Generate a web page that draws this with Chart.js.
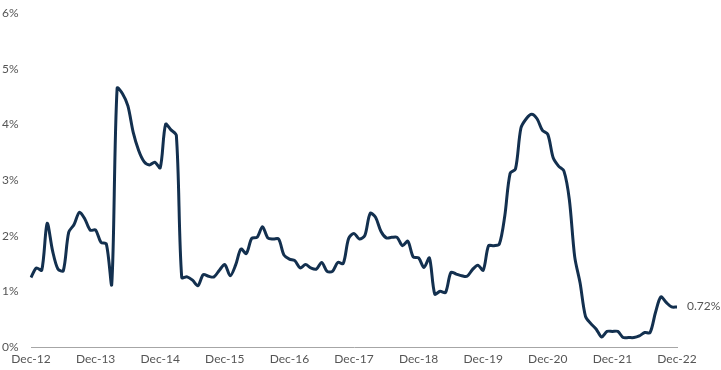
<!DOCTYPE html>
<html>
<head>
<meta charset="utf-8">
<script src="https://cdn.jsdelivr.net/npm/chart.js@4"></script>
<style>
  html, body { margin: 0; padding: 0; background: #ffffff; }
  #wrap { width: 721px; height: 370px; }
</style>
</head>
<body>
<div id="wrap"><canvas id="rateChart" width="721" height="370"></canvas></div>
<script>
// monthly labels, Dec-12 .. Dec-22
const month_names = ["Dec", "Jan", "Feb", "Mar", "Apr", "May", "Jun", "Jul", "Aug", "Sep", "Oct", "Nov"]
const start_year = 12
const end_label = "0.72%"

// values in %, one per month
const rate_2013 = [1.25, 1.42, 1.38, 2.22, 1.73, 1.40, 1.37, 2.06, 2.20, 2.42, 2.30, 2.10]
const rate_2014 = [2.10, 1.88, 1.85, 1.13, 4.65, 4.55, 4.33, 3.85, 3.53, 3.33, 3.27, 3.32]
const rate_2015 = [3.22, 4.00, 3.90, 3.80, 1.25, 1.26, 1.20, 1.10, 1.30, 1.27, 1.26, 1.38]
const rate_2016 = [1.48, 1.28, 1.47, 1.76, 1.68, 1.95, 1.97, 2.16, 1.96, 1.94, 1.94, 1.65]
const rate_2017 = [1.58, 1.55, 1.42, 1.48, 1.42, 1.40, 1.52, 1.36, 1.36, 1.52, 1.50, 1.95]
const rate_2018 = [2.04, 1.94, 2.00, 2.40, 2.33, 2.08, 1.96, 1.97, 1.97, 1.82, 1.90, 1.62]
const rate_2019 = [1.60, 1.43, 1.60, 0.95, 1.00, 0.98, 1.34, 1.31, 1.28, 1.27, 1.39, 1.47]
const rate_2020 = [1.38, 1.82, 1.82, 1.85, 2.35, 3.12, 3.20, 3.93, 4.10, 4.18, 4.10, 3.89]
const rate_2021 = [3.82, 3.40, 3.25, 3.16, 2.65, 1.62, 1.15, 0.55, 0.42, 0.32, 0.18, 0.28]
const rate_2022 = [0.28, 0.28, 0.17, 0.17, 0.17, 0.20, 0.26, 0.26, 0.62, 0.90, 0.80, 0.72]
const rate_last = [0.72]

const rate_values = [].concat(rate_2013, rate_2014, rate_2015, rate_2016, rate_2017,
  rate_2018, rate_2019, rate_2020, rate_2021, rate_2022, rate_last)

const month_labels = rate_values.map(function (v, i)
{
  const year = start_year + Math.floor((i + 11) / 12)
  return month_names[i % 12] + "-" + year
})

const text_color = "#555555"
const line_color = "#13304f"

// writes the last value next to the end of the line
const end_label_plugin =
{
  id: "endLabel",
  afterDatasetsDraw(chart)
  {
    const meta = chart.getDatasetMeta(0)
    const last = meta.data[meta.data.length - 1]
    const ctx = chart.ctx
    ctx.save()
    ctx.font = "12px Lato, 'DejaVu Sans', sans-serif"
    ctx.fillStyle = text_color
    ctx.textAlign = "left"
    ctx.textBaseline = "middle"
    ctx.fillText(end_label, last.x + 10, last.y - 1)
    ctx.restore()
  }
}

const chart_context = document.getElementById("rateChart").getContext("2d")

const rate_chart = new Chart(chart_context,
{
  type: "line",
  data:
  {
    labels: month_labels,
    datasets:
    [
      {
        data: rate_values,
        borderColor: line_color,
        borderWidth: 3,
        pointRadius: 0,
        tension: 0.3,
        fill: false
      }
    ]
  },
  options:
  {
    responsive: false,
    animation: false,
    layout: { padding: { left: 2, right: 44, top: 13, bottom: 0 } },
    plugins:
    {
      legend: { display: false },
      tooltip: { enabled: false }
    },
    scales:
    {
      x:
      {
        offset: false,
        grid: { display: false, drawTicks: false },
        border: { display: true, color: "#a6a6a6", width: 1 },
        ticks:
        {
          autoSkip: false,
          maxRotation: 0,
          padding: 5,
          color: text_color,
          font: { family: "Lato, 'DejaVu Sans', sans-serif", size: 12 },
          callback: function (value, index)
          {
            return index % 12 === 0 ? month_labels[index] : null
          }
        },
        afterFit: function (scale) { scale.height = 23 }
      },
      y:
      {
        min: 0,
        max: 6,
        grid: { display: false, drawTicks: false },
        border: { display: false },
        ticks:
        {
          stepSize: 1,
          crossAlign: "far",
          padding: 0,
          color: text_color,
          font: { family: "Lato, 'DejaVu Sans', sans-serif", size: 12 },
          callback: function (value) { return value + "%" }
        },
        afterFit: function (scale) { scale.width = 29 }
      }
    }
  },
  plugins: [end_label_plugin]
})
</script>
</body>
</html>
